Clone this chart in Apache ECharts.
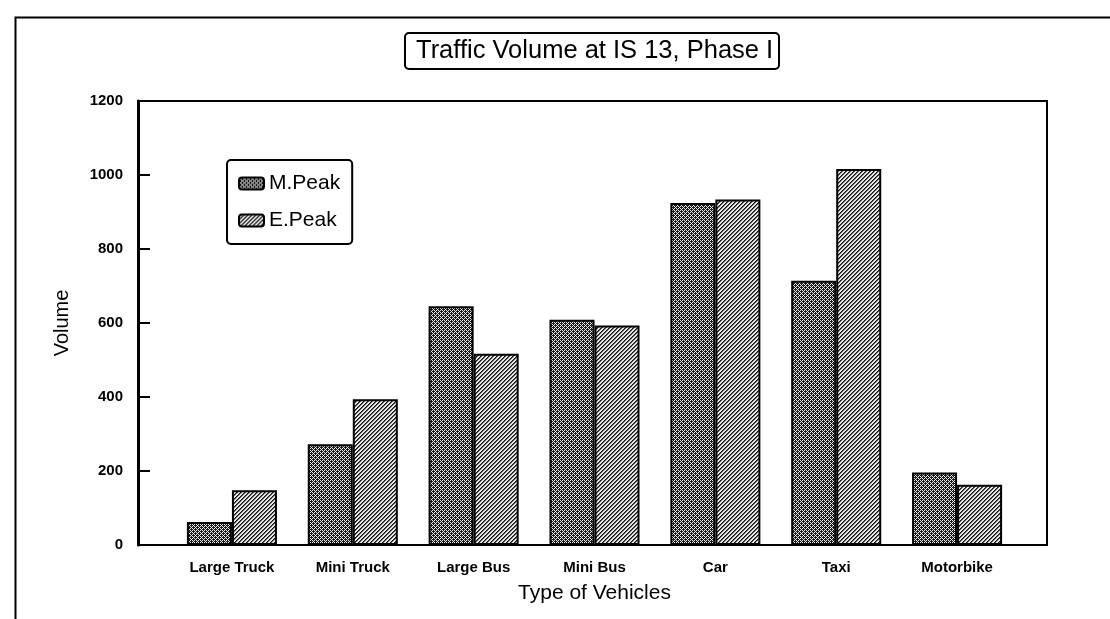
<!DOCTYPE html>
<html>
<head>
<meta charset="utf-8">
<script src="https://cdn.jsdelivr.net/npm/echarts@6/dist/echarts.min.js"></script>
<style>
html,body{margin:0;padding:0;background:#fff;}
#chart{width:1110px;height:619px;}
</style>
</head>
<body>
<div id="chart"></div>
<script>
const categories = ['Large Truck', 'Mini Truck', 'Large Bus', 'Mini Bus', 'Car', 'Taxi', 'Motorbike'];
const mPeak = [62, 272, 645, 609, 924, 714, 196];
const ePeak = [148, 394, 517, 593, 934, 1016, 163];
const yTicks = [0, 200, 400, 600, 800, 1000, 1200];
const seriesNames = ['M.Peak', 'E.Peak'];
const titleText = 'Traffic Volume at IS 13, Phase I';

function makePattern(kind) {
  const size = 8;
  const c = document.createElement('canvas');
  c.width = size; c.height = size;
  const ctx = c.getContext('2d');
  const img = ctx.createImageData(size, size);
  const bayer = [[0, 8, 2, 10], [12, 4, 14, 6], [3, 11, 1, 9], [15, 7, 13, 5]];
  for (let y = 0; y < size; y++) {
    for (let x = 0; x < size; x++) {
      let v;
      if (kind === 'm') {
        v = bayer[y % 4][x % 4] < 6 ? 235 : 25;
      } else {
        const d = (x + y) % 4;
        v = d === 0 ? 20 : (d === 1 ? 90 : 230);
      }
      const i = (y * size + x) * 4;
      img.data[i] = v; img.data[i + 1] = v; img.data[i + 2] = v; img.data[i + 3] = 255;
    }
  }
  ctx.putImageData(img, 0, 0);
  return { image: c, repeat: 'repeat' };
}

const chart = echarts.init(document.getElementById('chart'), null, { renderer: 'canvas' });
const font = 'Liberation Sans, Arial, sans-serif';

chart.setOption({
  backgroundColor: '#fff',
  animation: false,
  textStyle: { fontFamily: font, color: '#000' },
  title: {
    text: titleText,
    left: 405,
    top: 33,
    padding: [5, 6, 5, 11],
    borderColor: '#000',
    borderWidth: 2,
    borderRadius: 4,
    textStyle: { fontFamily: font, fontSize: 25.5, fontWeight: 'normal', color: '#000' }
  },
  legend: {
    data: seriesNames,
    orient: 'vertical',
    left: 227,
    top: 160,
    padding: [13, 12, 13, 11],
    itemWidth: 25,
    itemHeight: 12,
    itemGap: 16,
    borderColor: '#000',
    borderWidth: 2,
    borderRadius: 4,
    textStyle: { fontFamily: font, fontSize: 21, color: '#000' }
  },
  graphic: [
    { type: 'rect', left: 13, top: 15, shape: { width: 1120, height: 640 },
      style: { fill: 'none', stroke: '#000', lineWidth: 2 }, silent: true, z: -1 }
  ],
  grid: [
    { left: 138, right: 63, top: 101, bottom: 74, show: true, borderColor: '#000', borderWidth: 2, backgroundColor: 'transparent' },
    { left: 171.5, right: 92.5, top: 101, bottom: 74 }
  ],
  xAxis: [
    { type: 'value', gridIndex: 0, min: 0, max: 1, show: false },
    { type: 'category', gridIndex: 1, data: categories,
      axisLine: { show: false }, axisTick: { show: false },
      axisLabel: { fontFamily: font, fontSize: 15, fontWeight: 'bold', color: '#000', margin: 15 },
      name: 'Type of Vehicles', nameLocation: 'middle', nameGap: 38,
      nameTextStyle: { fontFamily: font, fontSize: 21, color: '#000' } }
  ],
  yAxis: [
    { type: 'value', gridIndex: 0, min: 0, max: 1200, interval: 200,
      axisLine: { show: true, lineStyle: { color: '#000', width: 3 } },
      axisTick: { show: true, inside: true, length: 12, lineStyle: { color: '#000', width: 2 } },
      splitLine: { show: false },
      axisLabel: { fontFamily: font, fontSize: 15, fontWeight: 'bold', color: '#000', margin: 15,
        formatter: function (v) { return yTicks.indexOf(v) >= 0 ? String(v) : ''; } },
      name: 'Volume', nameLocation: 'middle', nameGap: 66,
      nameTextStyle: { fontFamily: font, fontSize: 20, color: '#000' } },
    { type: 'value', gridIndex: 1, min: 0, max: 1200, show: false }
  ],
  series: [
    { name: seriesNames[0], type: 'bar', xAxisIndex: 1, yAxisIndex: 1, data: mPeak,
      barGap: '0%', barCategoryGap: '25.5%',
      itemStyle: { color: makePattern('m'), borderColor: '#000', borderWidth: 2 } },
    { name: seriesNames[1], type: 'bar', xAxisIndex: 1, yAxisIndex: 1, data: ePeak,
      barGap: '0%', barCategoryGap: '25.5%',
      itemStyle: { color: makePattern('e'), borderColor: '#000', borderWidth: 2 } }
  ]
});
</script>
</body>
</html>
